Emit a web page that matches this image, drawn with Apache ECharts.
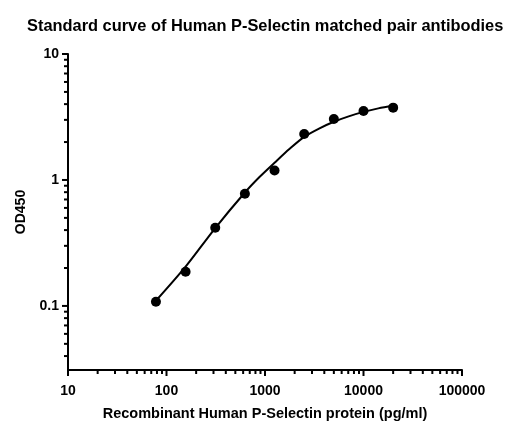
<!DOCTYPE html>
<html>
<head>
<meta charset="utf-8">
<script src="https://cdn.jsdelivr.net/npm/echarts@6/dist/echarts.min.js"></script>
<style>
  html, body { margin: 0; padding: 0; background: #fff; }
  #chart { width: 518px; height: 437px; }
</style>
</head>
<body>
<div id="chart"></div>
<script>
// ---- data ----
const concentrations = [78.125, 156.25, 312.5, 625, 1250, 2500, 5000, 10000, 20000];
const od450 = [0.108, 0.187, 0.418, 0.778, 1.19, 2.32, 3.05, 3.53, 3.75];

// fitted curve
const curveX = [78.125, 156.25, 312.5, 625, 884, 1250, 1768, 2500, 3536, 5000, 7071, 10000, 14142, 20000];
const curveY = [0.11, 0.205, 0.415, 0.795, 1.06, 1.37, 1.76, 2.2, 2.56, 2.9, 3.2, 3.47, 3.7, 3.88];

// axes
const xMin = 10, xMax = 100000;
const yMin = 0.031, yMax = 10;
const xMajorTicks = [10, 100, 1000, 10000, 100000];
const yMajorTicks = [0.1, 1, 10];
const minorMultipliers = [2, 3, 4, 5, 6, 7, 8, 9];
const xDecades = [10, 100, 1000, 10000];
const yDecades = [0.01, 0.1, 1];

const titleText = 'Standard curve of Human P-Selectin matched pair antibodies';
const xName = 'Recombinant Human P-Selectin protein (pg/ml)';
const yName = 'OD450';

// ---- build ----
const FONT = 'Liberation Sans, Arial, Helvetica, sans-serif';
const MAJOR_LEN = 5, MINOR_LEN = 3;

const xTickData = [];
xMajorTicks.forEach(v => xTickData.push([v, yMin, MAJOR_LEN]));
xDecades.forEach(d => minorMultipliers.forEach(m => xTickData.push([d * m, yMin, MINOR_LEN])));
const yTickData = [];
yMajorTicks.forEach(v => yTickData.push([xMin, v, MAJOR_LEN]));
yDecades.forEach(d => minorMultipliers.forEach(m => {
  const v = d * m;
  if (v >= yMin && v <= yMax) yTickData.push([xMin, v, MINOR_LEN]);
}));

function fmtLog(v) {
  const l = Math.log10(v);
  const r = Math.round(l);
  if (Math.abs(l - r) > 1e-6) return '';
  return r < 0 ? v.toFixed(-r) : String(Math.round(v));
}

const chart = echarts.init(document.getElementById('chart'), null, { renderer: 'canvas' });
chart.setOption({
  animation: false,
  backgroundColor: '#fff',
  title: {
    text: titleText,
    left: 22,
    top: 13,
    padding: 5,
    textStyle: { fontFamily: FONT, fontSize: 16.4, fontWeight: 'bold', color: '#000' }
  },
  grid: { left: 68, top: 54, width: 394, height: 316, containLabel: false },
  xAxis: {
    type: 'log', logBase: 10, min: xMin, max: xMax,
    name: xName, nameLocation: 'middle', nameGap: 36,
    nameTextStyle: { fontFamily: FONT, fontSize: 14.5, fontWeight: 'bold', color: '#000' },
    axisLine: { lineStyle: { color: '#000', width: 2 } },
    axisTick: { show: false },
    splitLine: { show: false },
    axisLabel: { margin: 14, fontFamily: FONT, fontSize: 14, fontWeight: 'bold', color: '#000', formatter: fmtLog }
  },
  yAxis: {
    type: 'log', logBase: 10, min: yMin, max: yMax,
    name: yName, nameLocation: 'middle', nameGap: 34, nameRotate: 90,
    nameTextStyle: { fontFamily: FONT, fontSize: 14, fontWeight: 'bold', color: '#000' },
    axisLine: { lineStyle: { color: '#000', width: 2 } },
    axisTick: { show: false },
    splitLine: { show: false },
    axisLabel: { margin: 9, showMinLabel: false, fontFamily: FONT, fontSize: 14, fontWeight: 'bold', color: '#000', formatter: fmtLog }
  },
  series: [
    {
      type: 'line',
      data: curveX.map((x, i) => [x, curveY[i]]),
      smooth: 0.3,
      showSymbol: false,
      lineStyle: { color: '#000', width: 2 },
      z: 3
    },
    {
      type: 'scatter',
      data: concentrations.map((x, i) => [x, od450[i]]),
      symbol: 'circle',
      symbolSize: 10,
      itemStyle: { color: '#000', opacity: 1 },
      z: 4
    },
    {
      type: 'custom',
      data: xTickData,
      clip: false,
      silent: true,
      renderItem: function (params, api) {
        const p = api.coord([api.value(0), api.value(1)]);
        const len = api.value(2);
        return { type: 'line', shape: { x1: p[0], y1: p[1], x2: p[0], y2: p[1] + len + 1 },
                 style: { stroke: '#000', lineWidth: 2 } };
      }
    },
    {
      type: 'custom',
      data: yTickData,
      clip: false,
      silent: true,
      renderItem: function (params, api) {
        const p = api.coord([api.value(0), api.value(1)]);
        const len = api.value(2);
        return { type: 'line', shape: { x1: p[0] - len - 1, y1: p[1], x2: p[0], y2: p[1] },
                 style: { stroke: '#000', lineWidth: 2 } };
      }
    }
  ]
});
</script>
</body>
</html>
